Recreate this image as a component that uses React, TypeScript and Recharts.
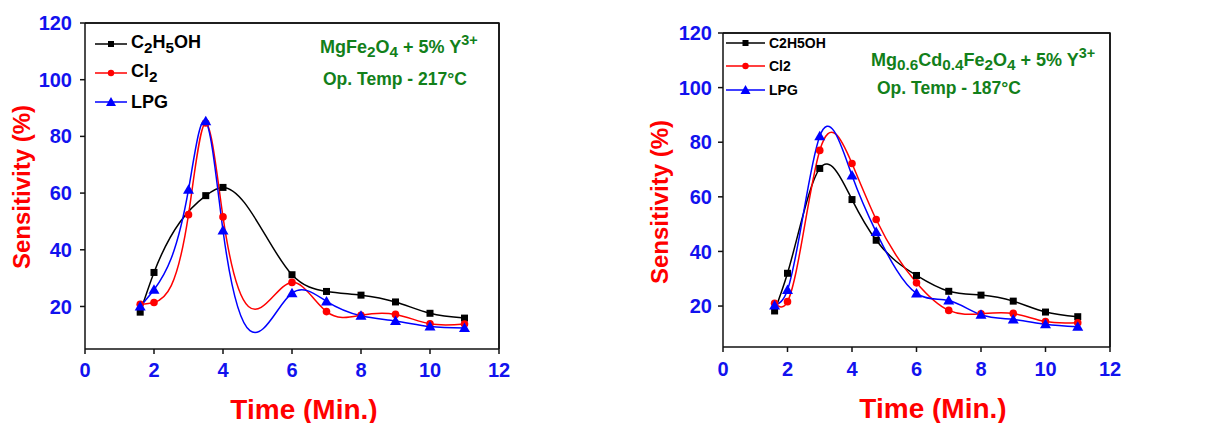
import React from 'react';
import { LineChart, Line, XAxis, YAxis } from 'recharts';

// x positions (min) and sensitivity (%)
const leftEthanolTime = [1.6, 2, 3.5, 4, 6, 7, 8, 9, 10, 11];
const leftEthanol = [18, 32, 59.1, 62, 31.2, 25.3, 24, 21.6, 17.6, 15.9];
const leftTime = [1.6, 2, 3, 3.5, 4, 6, 7, 8, 9, 10, 11];
const leftCl2 = [20.8, 21.4, 52.4, 84.7, 51.6, 28.5, 18.2, 16.9, 17.2, 13.9, 13.8];
const leftLpg = [20, 25.9, 61.2, 85.3, 46.8, 24.7, 21.8, 16.7, 14.9, 12.9, 12.4];

const rightTime = [1.6, 2, 3, 4, 4.75, 6, 7, 8, 9, 10, 11];
const rightEthanol = [18.2, 32, 70.4, 59, 44.1, 31.2, 25.4, 24, 21.8, 17.8, 16.1];
const rightCl2 = [21, 21.6, 77, 72.2, 51.7, 28.5, 18.4, 17.2, 17.3, 14.3, 13.9];
const rightLpg = [20.2, 25.9, 82.2, 67.8, 47.1, 24.6, 22, 16.8, 15.1, 13.3, 12.4];

const xTicks = [0, 2, 4, 6, 8, 10, 12];
const yTicks = [20, 40, 60, 80, 100, 120];

const FONT = '"Liberation Sans", Arial, sans-serif';
const BLUE = '#1212ee';
const RED = '#ff0000';
const GREEN = '#12801a';
const CHART_H = 423;
const X_AXIS_H = 40;
const Y_AXIS_W = 60;

const LEFT_PANEL = { left: 0, width: 600, margin: { top: 22, right: 100, bottom: 34, left: 25 } };
const RIGHT_PANEL = { left: 600, width: 611, margin: { top: 32, right: 100, bottom: 36, left: 63 } };

const toPoints = (xs: number[], ys: number[]) => xs.map((t, i) => ({ t, s: ys[i] }));

// cubic spline y(x) through the points (like Origin's "Spline" connect), natural end conditions
const splineX = (context: any) => {
  let xs: number[] = [];
  let ys: number[] = [];
  return {
    areaStart() {},
    areaEnd() {},
    lineStart() {
      xs = [];
      ys = [];
    },
    point(x: number, y: number) {
      xs.push(+x);
      ys.push(+y);
    },
    lineEnd() {
      const n = xs.length;
      if (!n) return;
      context.moveTo(xs[0], ys[0]);
      if (n < 3) {
        for (let i = 1; i < n; i++) context.lineTo(xs[i], ys[i]);
        return;
      }
      const h: number[] = [];
      for (let i = 0; i < n - 1; i++) h.push(xs[i + 1] - xs[i]);
      // tridiagonal solve for second derivatives
      const a: number[] = new Array(n).fill(0);
      const b: number[] = new Array(n).fill(1);
      const c: number[] = new Array(n).fill(0);
      const r: number[] = new Array(n).fill(0);
      for (let i = 1; i < n - 1; i++) {
        a[i] = h[i - 1];
        b[i] = 2 * (h[i - 1] + h[i]);
        c[i] = h[i];
        r[i] = 6 * ((ys[i + 1] - ys[i]) / h[i] - (ys[i] - ys[i - 1]) / h[i - 1]);
      }
      for (let i = 1; i < n; i++) {
        const m = a[i] / b[i - 1];
        b[i] -= m * c[i - 1];
        r[i] -= m * r[i - 1];
      }
      const M: number[] = new Array(n).fill(0);
      M[n - 1] = r[n - 1] / b[n - 1];
      for (let i = n - 2; i >= 0; i--) M[i] = (r[i] - c[i] * M[i + 1]) / b[i];
      const d: number[] = [];
      for (let i = 0; i < n - 1; i++) d.push((ys[i + 1] - ys[i]) / h[i] - (h[i] * (2 * M[i] + M[i + 1])) / 6);
      d.push((ys[n - 1] - ys[n - 2]) / h[n - 2] + (h[n - 2] * (M[n - 2] + 2 * M[n - 1])) / 6);
      for (let i = 0; i < n - 1; i++) {
        const k = h[i] / 3;
        context.bezierCurveTo(xs[i] + k, ys[i] + d[i] * k, xs[i + 1] - k, ys[i + 1] - d[i + 1] * k, xs[i + 1], ys[i + 1]);
      }
    },
  };
};

const SquareDot = (props: any) => {
  const { cx, cy } = props;
  if (cx == null || cy == null) return null;
  return <rect x={cx - 3.5} y={cy - 3.5} width={7} height={7} fill="#000" />;
};
const CircleDot = (props: any) => {
  const { cx, cy } = props;
  if (cx == null || cy == null) return null;
  return <circle cx={cx} cy={cy} r={3.8} fill={RED} />;
};
const TriangleDot = (props: any) => {
  const { cx, cy } = props;
  if (cx == null || cy == null) return null;
  return <polygon points={`${cx},${cy - 5.5} ${cx - 5.5},${cy + 4} ${cx + 5.5},${cy + 4}`} fill="#0000ff" />;
};

const XTick = (props: any) => {
  const { x, y, payload } = props;
  return (
    <text x={x} y={y} dy="0.71em" textAnchor="middle" fill={BLUE} fontSize={20} fontWeight="bold" fontFamily={FONT}>
      {payload.value}
    </text>
  );
};
const YTick = (props: any) => {
  const { x, y, payload } = props;
  return (
    <text x={x} y={y} dy="0.355em" textAnchor="end" fill={BLUE} fontSize={20} fontWeight="bold" fontFamily={FONT}>
      {payload.value}
    </text>
  );
};

interface PanelProps {
  layout: { left: number; width: number; margin: { top: number; right: number; bottom: number; left: number } };
  xTickMargin: number;
  yTickMargin: number;
  ethanol: { t: number; s: number }[];
  cl2: { t: number; s: number }[];
  lpg: { t: number; s: number }[];
}

function Panel({ layout, xTickMargin, yTickMargin, ethanol, cl2, lpg }: PanelProps) {
  return (
    <div style={{ position: 'absolute', left: layout.left, top: 0 }}>
      <LineChart width={layout.width} height={CHART_H} margin={layout.margin}>
        <XAxis
          type="number"
          dataKey="t"
          domain={[0, 12]}
          ticks={xTicks}
          tick={<XTick />}
          tickSize={5}
          tickMargin={xTickMargin}
          stroke="#111"
          strokeWidth={1.5}
          height={X_AXIS_H}
        />
        {/* mirrored axes close the box on top and right */}
        <XAxis
          xAxisId="top"
          orientation="top"
          type="number"
          dataKey="t"
          domain={[0, 12]}
          ticks={xTicks}
          tick={false}
          tickLine={false}
          stroke="#111"
          strokeWidth={1.5}
          height={1}
        />
        <YAxis
          type="number"
          dataKey="s"
          domain={[5, 120]}
          ticks={yTicks}
          tick={<YTick />}
          tickSize={5}
          tickMargin={yTickMargin}
          stroke="#111"
          strokeWidth={1.5}
          width={Y_AXIS_W}
        />
        <YAxis
          yAxisId="right"
          orientation="right"
          type="number"
          dataKey="s"
          domain={[5, 120]}
          ticks={yTicks}
          tick={false}
          tickLine={false}
          stroke="#111"
          strokeWidth={1.5}
          width={1}
        />
        <Line data={ethanol} dataKey="s" type={splineX as any} stroke="#000" strokeWidth={1.5} dot={<SquareDot />} isAnimationActive={false} />
        <Line data={cl2} dataKey="s" type={splineX as any} stroke={RED} strokeWidth={1.5} dot={<CircleDot />} isAnimationActive={false} />
        <Line data={lpg} dataKey="s" type={splineX as any} stroke="#0000ff" strokeWidth={1.5} dot={<TriangleDot />} isAnimationActive={false} />
        {/* hidden copies tie the mirrored axes to data so they are drawn */}
        <Line data={lpg} dataKey="s" xAxisId="top" yAxisId="right" stroke="none" dot={false} isAnimationActive={false} />
      </LineChart>
    </div>
  );
}

// top and right edges of a panel's plot box, from the same layout the chart uses
const FrameEdges = ({ p }: { p: typeof LEFT_PANEL }) => {
  const boxLeft = p.left + p.margin.left + Y_AXIS_W;
  const boxRight = p.left + p.width - p.margin.right - 1;
  const boxTop = p.margin.top + 1;
  const boxBottom = CHART_H - p.margin.bottom - X_AXIS_H;
  return (
    <svg
      width={1211}
      height={CHART_H}
      style={{ position: 'absolute', left: 0, top: 0, pointerEvents: 'none', zIndex: 5 }}
    >
      <polyline
        points={`${boxLeft},${boxTop} ${boxRight},${boxTop} ${boxRight},${boxBottom}`}
        fill="none"
        stroke="#111"
        strokeWidth={1.5}
      />
    </svg>
  );
};

const LegendRow = ({ x, y, len, color, kind, children, fontSize }: any) => (
  <div style={{ position: 'absolute', left: x, top: y - 14, height: 28, display: 'flex', alignItems: 'center', fontFamily: FONT, fontWeight: 'bold', fontSize, color: '#000', whiteSpace: 'nowrap' }}>
    <svg width={len} height={14} style={{ marginRight: 4 }}>
      <line x1={0} y1={7} x2={len} y2={7} stroke={color} strokeWidth={1.5} />
      {kind === 'square' && <rect x={len / 2 - 3} y={4} width={6} height={6} fill="#000" />}
      {kind === 'circle' && <circle cx={len / 2} cy={7} r={3.2} fill={RED} />}
      {kind === 'triangle' && <polygon points={`${len / 2},2 ${len / 2 - 5},11 ${len / 2 + 5},11`} fill="#0000ff" />}
    </svg>
    <span>{children}</span>
  </div>
);

const overlayText = (left: number, top: number, size: number, color: string): React.CSSProperties => ({
  position: 'absolute', left, top, fontFamily: FONT, fontWeight: 'bold', fontSize: size, color, whiteSpace: 'nowrap', lineHeight: 1,
});

const rotated = (cx: number, cy: number): React.CSSProperties => ({
  position: 'absolute', left: cx, top: cy, transform: 'translate(-50%, -50%) rotate(-90deg)',
  fontFamily: FONT, fontWeight: 'bold', fontSize: 24, color: RED, whiteSpace: 'nowrap', lineHeight: 1,
});

const bottomTitle = (cx: number, top: number): React.CSSProperties => ({
  position: 'absolute', left: cx, top, transform: 'translateX(-50%)',
  fontFamily: FONT, fontWeight: 'bold', fontSize: 28, color: RED, whiteSpace: 'nowrap', lineHeight: 1,
});

const sub = { fontSize: '0.85em', verticalAlign: '-0.3em' };
const sup = { fontSize: '0.8em', verticalAlign: '0.55em' };

export default function App() {
  return (
    <div style={{ position: 'relative', width: 1211, height: 423, margin: '-8px 0 0 -8px', background: '#fff' }}>
      <Panel
        layout={LEFT_PANEL}
        xTickMargin={9}
        yTickMargin={8}
        ethanol={toPoints(leftEthanolTime, leftEthanol)}
        cl2={toPoints(leftTime, leftCl2)}
        lpg={toPoints(leftTime, leftLpg)}
      />
      <Panel
        layout={RIGHT_PANEL}
        xTickMargin={10}
        yTickMargin={6}
        ethanol={toPoints(rightTime, rightEthanol)}
        cl2={toPoints(rightTime, rightCl2)}
        lpg={toPoints(rightTime, rightLpg)}
      />
      <FrameEdges p={LEFT_PANEL} />
      <FrameEdges p={RIGHT_PANEL} />

      {/* left panel legend + notes */}
      <LegendRow x={95} y={44} len={32} color="#000" kind="square" fontSize={18}>C<span style={sub}>2</span>H<span style={sub}>5</span>OH</LegendRow>
      <LegendRow x={95} y={73} len={32} color={RED} kind="circle" fontSize={18}>Cl<span style={sub}>2</span></LegendRow>
      <LegendRow x={95} y={102} len={32} color="#0000ff" kind="triangle" fontSize={18}>LPG</LegendRow>
      <div style={overlayText(320, 33, 18, GREEN)}>MgFe<span style={sub}>2</span>O<span style={sub}>4</span> + 5% Y<span style={sup}>3+</span></div>
      <div style={overlayText(323, 71, 17.5, GREEN)}>Op. Temp - 217°C</div>
      <div style={rotated(22, 187)}>Sensitivity (%)</div>
      <div style={bottomTitle(304, 396)}>Time (Min.)</div>

      {/* right panel legend + notes */}
      <LegendRow x={726} y={43} len={39} color="#000" kind="square" fontSize={14}>C2H5OH</LegendRow>
      <LegendRow x={726} y={66} len={39} color={RED} kind="circle" fontSize={14}>Cl2</LegendRow>
      <LegendRow x={726} y={90} len={39} color="#0000ff" kind="triangle" fontSize={14}>LPG</LegendRow>
      <div style={overlayText(871, 46, 18, GREEN)}>Mg<span style={sub}>0.6</span>Cd<span style={sub}>0.4</span>Fe<span style={sub}>2</span>O<span style={sub}>4</span> + 5% Y<span style={sup}>3+</span></div>
      <div style={overlayText(877, 80, 17.5, GREEN)}>Op. Temp - 187°C</div>
      <div style={rotated(660, 202)}>Sensitivity (%)</div>
      <div style={bottomTitle(933, 395)}>Time (Min.)</div>
    </div>
  );
}
